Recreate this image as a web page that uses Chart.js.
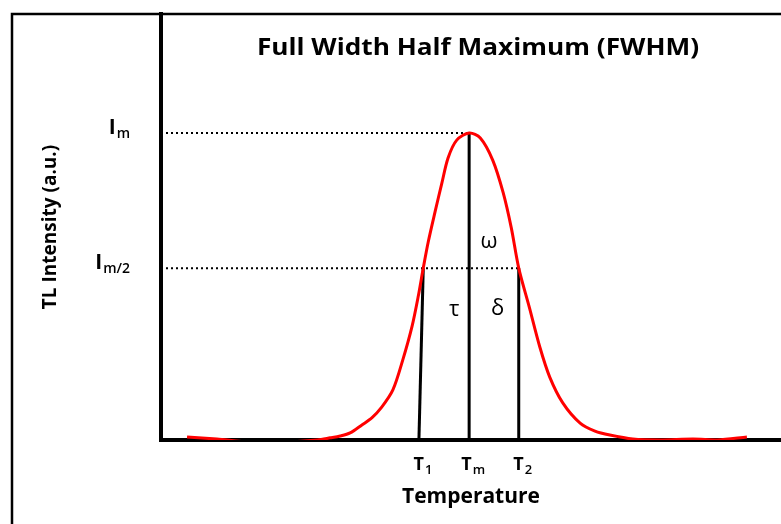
<!DOCTYPE html>
<html>
<head>
<meta charset="utf-8">
<title>Full Width Half Maximum (FWHM)</title>
<script src="https://cdn.jsdelivr.net/npm/chart.js@4/dist/chart.umd.min.js"></script>
<style>
    html, body { margin: 0; padding: 0; background: #fff; }
    canvas { display: block; }
</style>
</head>
<body>
<canvas id="fwhmChart" width="781" height="524"></canvas>
<script>
// glow curve (temperature in arbitrary units, intensity relative to Im)
const temps = [4.2, 9.0, 14.4, 19.7, 25.2, 27.3, 28.9, 30.5, 32.4, 34.0, 35.6, 37.4, 39.0, 40.5, 41.5, 42.3, 43.1, 44.2, 45.3, 46.3, 47.7,
               49.7, 51.5, 53.5, 55.2, 56.5, 57.7, 59.4, 61.1, 62.7, 64.8, 67.6, 70.0, 72.4, 76.1, 80.5, 85.8, 89.7, 94.5];
const intensity = [0.010, 0.003, -0.007, -0.007, 0.000, 0.007, 0.013, 0.023, 0.049, 0.072, 0.107, 0.163, 0.261, 0.371, 0.469, 0.560, 0.645, 0.743, 0.837, 0.919, 0.977,
                   1.000, 0.984, 0.912, 0.805, 0.691, 0.560, 0.433, 0.303, 0.205, 0.121, 0.055, 0.029, 0.016, 0.003, 0.000, 0.003, 0.000, 0.010];

const iMax = 1.0;
const iHalf = 0.56;
const tPeak = 49.7;
const t1Top = 42.3;      // the T1 line leans a little
const t1Bottom = 41.6;
const t2 = 57.7;

const xTickValues = [t1Bottom, tPeak, t2];
const xTickLabels = [['T', '1'], ['T', 'm'], ['T', '2']];
const yTickValues = [iMax, iHalf];
const yTickLabels = [['I', 'm'], ['I', 'm/2']];

const greekLabels = ['ω', 'τ', 'δ'];
const greekX = [52.9, 47.3, 54.3];
const greekY = [0.645, 0.423, 0.427];

const chartTitle = 'Full Width Half Maximum (FWHM)';
const FONT = '"Open Sans", "DejaVu Sans", sans-serif';

function drawSub(c, main, sub, x, baseY, align, mainSize, subSize) {
    c.font = 'bold ' + mainSize + 'px ' + FONT;
    const wMain = c.measureText(main).width;
    c.font = '600 ' + subSize + 'px ' + FONT;
    const wSub = c.measureText(sub).width;
    const total = wMain + 1 + wSub;
    const left = align === 'right' ? x - total : x - total / 2;
    c.textAlign = 'left';
    c.textBaseline = 'alphabetic';
    c.font = 'bold ' + mainSize + 'px ' + FONT;
    c.fillText(main, left, baseY);
    c.font = '600 ' + subSize + 'px ' + FONT;
    c.fillText(sub, left + wMain + 1, baseY + Math.round(subSize * 0.3));
}

const fwhmDecor = {
    id: 'fwhmDecor',
    beforeDraw(chart) {
        const c = chart.ctx;
        c.save();
        c.strokeStyle = '#000';
        c.lineWidth = 2.5;
        c.beginPath();
        c.moveTo(12, chart.height);
        c.lineTo(12, 14);
        c.lineTo(chart.width, 14);
        c.stroke();
        c.restore();
    },
    afterDraw(chart) {
        const c = chart.ctx;
        const xs = chart.scales.x;
        const ys = chart.scales.y;
        c.save();
        c.fillStyle = '#000';

        // the original title is a little wider than Open Sans, so stretch it
        c.save();
        c.translate(478, 48);
        c.scale(1.14, 1);
        c.font = 'bold 23px ' + FONT;
        c.textAlign = 'center';
        c.textBaseline = 'middle';
        c.fillText(chartTitle, 0, 0);
        c.restore();

        xTickValues.forEach(function(v, i) {
            drawSub(c, xTickLabels[i][0], xTickLabels[i][1], xs.getPixelForValue(v) + 4, 470, 'center', 18, 13);
        });
        yTickValues.forEach(function(v, i) {
            drawSub(c, yTickLabels[i][0], yTickLabels[i][1], 130, ys.getPixelForValue(v) + 1, 'right', 21, 14);
        });

        c.font = '22px ' + FONT;
        c.textAlign = 'center';
        c.textBaseline = 'middle';
        greekLabels.forEach(function(g, i) {
            c.fillText(g, xs.getPixelForValue(greekX[i]), ys.getPixelForValue(greekY[i]));
        });
        c.restore();
    }
};

const dotted = { borderColor: '#000', borderWidth: 2, borderDash: [2, 3], pointRadius: 0, fill: false };
const solid = { borderColor: '#000', borderWidth: 3, pointRadius: 0, fill: false };

new Chart(document.getElementById('fwhmChart'), {
    type: 'line',
    data: {
        datasets: [{
            label: 'TL glow curve',
            data: temps.map(function(t, i) { return { x: t, y: intensity[i] }; }),
            borderColor: '#ff0000',
            borderWidth: 3,
            pointRadius: 0,
            tension: 0.3,
            fill: false
        }, Object.assign({
            label: 'Im',
            data: [{ x: 0, y: iMax }, { x: tPeak, y: iMax }]
        }, dotted), Object.assign({
            label: 'Im/2',
            data: [{ x: 0, y: iHalf }, { x: t2, y: iHalf }]
        }, dotted), Object.assign({
            label: 'T1',
            data: [{ x: t1Bottom, y: 0 }, { x: t1Top, y: iHalf }]
        }, solid), Object.assign({
            label: 'Tm',
            data: [{ x: tPeak, y: 0 }, { x: tPeak, y: iMax }]
        }, solid), Object.assign({
            label: 'T2',
            data: [{ x: t2, y: 0 }, { x: t2, y: iHalf }]
        }, solid)]
    },
    options: {
        responsive: false,
        animation: false,
        layout: { padding: { top: 14, right: 0, bottom: 0, left: 0 } },
        plugins: {
            legend: { display: false },
            tooltip: { enabled: false }
        },
        scales: {
            x: {
                type: 'linear',
                min: 0,
                max: 100,
                grid: { display: false },
                border: { display: true, color: '#000', width: 4 },
                ticks: { display: false },
                title: {
                    display: true,
                    text: 'Temperature',
                    color: '#000',
                    font: { family: FONT, size: 21, weight: 'bold' },
                    padding: { top: 0, bottom: 14 }
                },
                afterFit: function(scale) { scale.height = 84; }
            },
            y: {
                type: 'linear',
                min: 0,
                max: 1.388,
                grid: { display: false },
                border: { display: true, color: '#000', width: 4 },
                ticks: { display: false },
                title: {
                    display: true,
                    text: 'TL Intensity (a.u.)',
                    color: '#000',
                    font: { family: FONT, size: 19, weight: 'bold' },
                    padding: { top: 39, bottom: 0 }
                },
                afterFit: function(scale) { scale.width = 161; }
            }
        }
    },
    plugins: [fwhmDecor]
});
</script>
</body>
</html>
